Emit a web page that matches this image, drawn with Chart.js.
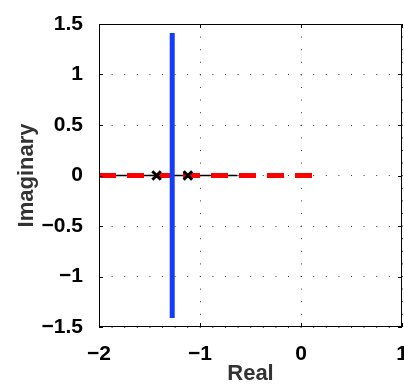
<!DOCTYPE html>
<html>
<head>
<meta charset="utf-8">
<script src="https://cdn.jsdelivr.net/npm/chart.js@4.4.1/dist/chart.umd.min.js"></script>
<style>
    html, body { margin: 0; padding: 0; background: #ffffff; overflow: hidden; }
    #wrap { width: 404px; height: 387px; }
</style>
</head>
<body>
<div id="wrap"><canvas id="locus-chart"></canvas></div>
<script>
// Axis ticks
const realTicks = [-2, -1, 0, 1];
const imagTicks = [-1.5, -1, -0.5, 0, 0.5, 1, 1.5];

// Open-loop poles on the real axis
const poleReal = [-1.43, -1.12];
// Real-axis segment of the locus (thin black)
const locusReal = [-2, -0.63];
// Dashed red reference line along the real axis
const dashedReal = [-2, 0.15];
// Vertical branch leaving the break point
const branchReal = -1.275;
const branchImag = [-1.41, 1.41];

const FONT = 'Liberation Sans, Arial, Helvetica, sans-serif';

const formatTick = (value) => {
    if (value < 0) {
        return '\u2212' + Math.abs(value);
    }
    return String(value);
};

// Box round the plot with small inward tick marks
const frameAxes = {
    id: 'frameAxes',
    afterDraw(chart) {
        const { ctx, chartArea } = chart;
        const { left, right, top, bottom } = chartArea;
        const xScale = chart.scales.x;
        const yScale = chart.scales.y;
        const tick = 4;

        ctx.save();
        ctx.strokeStyle = '#000000';
        ctx.lineWidth = 1;
        ctx.setLineDash([]);
        ctx.strokeRect(left + 0.5, top + 0.5, right - left - 1, bottom - top - 1);

        ctx.beginPath();
        realTicks.forEach(v => {
            const px = Math.round(xScale.getPixelForValue(v)) + 0.5;
            ctx.moveTo(px, bottom);
            ctx.lineTo(px, bottom - tick);
            ctx.moveTo(px, top);
            ctx.lineTo(px, top + tick);
        });
        imagTicks.forEach(v => {
            const py = Math.round(yScale.getPixelForValue(v)) + 0.5;
            ctx.moveTo(left, py);
            ctx.lineTo(left + tick, py);
            ctx.moveTo(right, py);
            ctx.lineTo(right - tick, py);
        });
        ctx.stroke();
        ctx.restore();
    }
};

const ctx = document.getElementById('locus-chart').getContext('2d');

const locusChart = new Chart(ctx, {
    type: 'scatter',
    data: {
        datasets: [
            {
                label: 'Poles',
                data: poleReal.map(x => ({ x: x, y: 0 })),
                pointStyle: 'crossRot',
                pointRadius: 6,
                pointBorderWidth: 3,
                borderColor: '#000000',
                backgroundColor: '#000000',
                showLine: false,
                order: 0
            },
            {
                label: 'Branch',
                data: branchImag.map(y => ({ x: branchReal, y: y })),
                showLine: true,
                borderColor: 'rgb(20, 60, 255)',
                borderWidth: 5,
                borderCapStyle: 'butt',
                pointRadius: 0,
                order: 1
            },
            {
                label: 'Reference',
                data: dashedReal.map(x => ({ x: x, y: 0 })),
                showLine: true,
                borderColor: 'rgb(255, 0, 0)',
                borderWidth: 5,
                borderDash: [17, 11],
                borderCapStyle: 'butt',
                pointRadius: 0,
                order: 2
            },
            {
                label: 'Real axis locus',
                data: locusReal.map(x => ({ x: x, y: 0 })),
                showLine: true,
                borderColor: '#000000',
                borderWidth: 1.5,
                pointRadius: 0,
                order: 3
            }
        ]
    },
    options: {
        responsive: true,
        maintainAspectRatio: false,
        animation: false,
        layout: {
            autoPadding: false,
            padding: { top: 24, right: 2, left: 0, bottom: 0 }
        },
        plugins: {
            legend: { display: false },
            tooltip: { enabled: false }
        },
        scales: {
            x: {
                type: 'linear',
                min: -2,
                max: 1,
                afterBuildTicks: (scale) => {
                    scale.ticks = realTicks.map(v => ({ value: v }));
                },
                afterFit: (scale) => {
                    // let the last label run off the edge instead of shrinking the plot
                    scale.height = 60;
                    scale.paddingLeft = 0;
                    scale.paddingRight = 0;
                },
                grid: {
                    color: '#3a3a3a',
                    lineWidth: 1,
                    drawTicks: false
                },
                border: {
                    display: false,
                    dash: [1, 11.6]
                },
                ticks: {
                    color: '#000000',
                    padding: 15,
                    maxRotation: 0,
                    font: { family: FONT, size: 21, weight: 'bold' },
                    callback: formatTick
                },
                title: {
                    display: true,
                    text: 'Real',
                    color: '#333333',
                    padding: { top: 1, bottom: 0 },
                    font: { family: FONT, size: 22, weight: 'bold' }
                }
            },
            y: {
                type: 'linear',
                min: -1.5,
                max: 1.5,
                afterBuildTicks: (scale) => {
                    scale.ticks = imagTicks.map(v => ({ value: v }));
                },
                afterFit: (scale) => {
                    scale.width = 99;
                    scale.paddingTop = 0;
                    scale.paddingBottom = 0;
                },
                grid: {
                    color: '#3a3a3a',
                    lineWidth: 1,
                    drawTicks: false
                },
                border: {
                    display: false,
                    dash: [1, 11.6]
                },
                ticks: {
                    color: '#000000',
                    padding: 16,
                    font: { family: FONT, size: 21, weight: 'bold' },
                    callback: formatTick
                },
                title: {
                    display: true,
                    text: 'Imaginary',
                    color: '#333333',
                    padding: { top: 14, bottom: 0 },
                    font: { family: FONT, size: 22, weight: 'bold' }
                }
            }
        }
    },
    plugins: [frameAxes]
});
</script>
</body>
</html>
